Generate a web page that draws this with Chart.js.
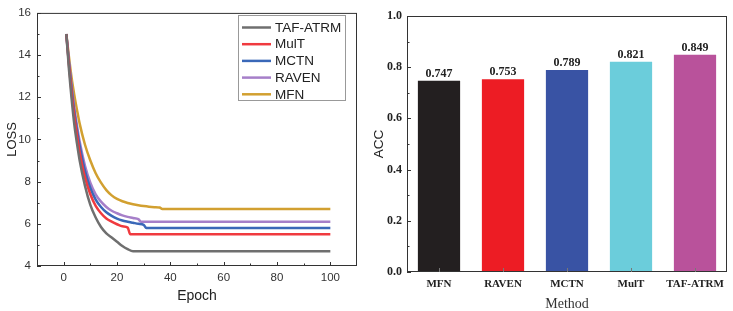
<!DOCTYPE html>
<html>
<head>
<meta charset="utf-8">
<script src="https://cdn.jsdelivr.net/npm/chart.js@4.4.1/dist/chart.umd.min.js"></script>
<style>
    body { margin: 0; background: #fff; width: 733px; height: 311px; position: relative; overflow: hidden; }
    .panel { position: absolute; top: 0; height: 311px; }
    #leftPanel { left: 0; width: 370px; }
    #rightPanel { left: 370px; width: 363px; }
</style>
</head>
<body>
<div class="panel" id="leftPanel"><canvas id="lossChart"></canvas></div>
<div class="panel" id="rightPanel"><canvas id="accChart"></canvas></div>
<script>
// Loss curves
const tafEpochs   = [1, 2, 3, 4, 5, 6, 8, 10, 12, 14, 16, 18, 20, 22, 24, 26, 100];
const tafLoss     = [15, 13.3, 11.9, 10.7, 9.8, 9.0, 7.8, 6.9, 6.3, 5.85, 5.55, 5.35, 5.15, 4.95, 4.8, 4.7, 4.7];
const multEpochs  = [1, 2, 3, 4, 5, 6, 8, 10, 12, 14, 16, 18, 20, 22, 24, 25, 100];
const multLoss    = [15, 13.5, 12.2, 11.1, 10.2, 9.4, 8.2, 7.4, 6.85, 6.5, 6.25, 6.1, 5.98, 5.88, 5.82, 5.5, 5.5];
const mctnEpochs  = [1, 2, 3, 4, 5, 6, 8, 10, 12, 14, 16, 18, 20, 22, 24, 26, 28, 30, 31, 100];
const mctnLoss    = [15, 13.6, 12.4, 11.3, 10.45, 9.7, 8.5, 7.7, 7.15, 6.8, 6.55, 6.38, 6.25, 6.16, 6.1, 6.05, 6.0, 5.95, 5.8, 5.8];
const ravenEpochs = [1, 2, 3, 4, 5, 6, 8, 10, 12, 14, 16, 18, 20, 22, 24, 26, 28, 29, 100];
const ravenLoss   = [15, 13.7, 12.5, 11.5, 10.65, 9.9, 8.75, 7.95, 7.4, 7.05, 6.8, 6.62, 6.5, 6.4, 6.33, 6.28, 6.22, 6.1, 6.1];
const mfnEpochs   = [1, 2, 3, 4, 5, 6, 8, 10, 12, 14, 16, 18, 20, 22, 24, 26, 28, 30, 32, 34, 36, 37, 100];
const mfnLoss     = [15, 13.9, 12.9, 12.1, 11.4, 10.75, 9.75, 9.0, 8.4, 7.95, 7.6, 7.35, 7.18, 7.07, 6.99, 6.93, 6.88, 6.84, 6.81, 6.79, 6.77, 6.7, 6.7];

const epochTicks = [0, 20, 40, 60, 80, 100];
const lossTicks  = [4, 6, 8, 10, 12, 14, 16];

// Accuracy bars
const methods = ['MFN', 'RAVEN', 'MCTN', 'MulT', 'TAF-ATRM'];
const accValues = [0.747, 0.753, 0.789, 0.821, 0.849];
const accTicks = [0.0, 0.2, 0.4, 0.6, 0.8, 1.0];

const toPoints = (xs, ys) => xs.map((x, i) => ({ x: x, y: ys[i] }));

// frame + inward ticks (major and minor)
const frameTicks = {
    id: 'frameTicks',
    afterDraw(chart, args, opts) {
        const ctx = chart.ctx;
        const a = chart.chartArea;
        ctx.save();
        ctx.strokeStyle = '#333';
        ctx.lineWidth = 1;
        ctx.strokeRect(a.left + 0.5, a.top + 0.5, a.right - a.left - 1, a.bottom - a.top - 1);
        const y = chart.scales.y;
        const yt = y.ticks.map(t => t.value);
        for (let i = 0; i < yt.length; i++) {
            const py = Math.round(y.getPixelForValue(yt[i])) + 0.5;
            ctx.beginPath(); ctx.moveTo(a.left, py); ctx.lineTo(a.left + 4, py); ctx.stroke();
            if (i < yt.length - 1) {
                const my = Math.round(y.getPixelForValue((yt[i] + yt[i + 1]) / 2)) + 0.5;
                ctx.beginPath(); ctx.moveTo(a.left, my); ctx.lineTo(a.left + 2.5, my); ctx.stroke();
            }
        }
        if (opts.xLinear) {
            const x = chart.scales.x;
            const xt = x.ticks.map(t => t.value);
            for (let i = 0; i < xt.length; i++) {
                const px = Math.round(x.getPixelForValue(xt[i])) + 0.5;
                ctx.beginPath(); ctx.moveTo(px, a.bottom); ctx.lineTo(px, a.bottom - 4); ctx.stroke();
                const m = xt[i] + 10;
                if (m < x.max) {
                    const mx = Math.round(x.getPixelForValue(m)) + 0.5;
                    ctx.beginPath(); ctx.moveTo(mx, a.bottom); ctx.lineTo(mx, a.bottom - 2.5); ctx.stroke();
                }
            }
            const mx0 = Math.round(x.getPixelForValue(xt[0] - 10)) + 0.5;
            ctx.beginPath(); ctx.moveTo(mx0, a.bottom); ctx.lineTo(mx0, a.bottom - 2.5); ctx.stroke();
        } else {
            // small ticks at bar centres on the category axis
            const x = chart.scales.x;
            ctx.strokeStyle = '#777';
            x.ticks.forEach((t, i) => {
                const px = Math.round(x.getPixelForTick(i)) + 0.5;
                ctx.beginPath(); ctx.moveTo(px, a.bottom); ctx.lineTo(px, a.bottom - 4); ctx.stroke();
            });
        }
        ctx.restore();
    }
};

// legend box inside the plot
const lossLegend = {
    id: 'lossLegend',
    afterDraw(chart) {
        const ctx = chart.ctx;
        ctx.save();
        ctx.strokeStyle = '#999';
        ctx.lineWidth = 1;
        ctx.strokeRect(238.5, 15.5, 107, 85);
        ctx.font = '13.5px "Liberation Sans", Arial, sans-serif';
        ctx.textBaseline = 'middle';
        ctx.fillStyle = '#222';
        chart.data.datasets.forEach((ds, i) => {
            const y = 27.5 + i * 16.7;
            ctx.strokeStyle = ds.borderColor;
            ctx.lineWidth = 2.5;
            ctx.beginPath(); ctx.moveTo(242, y); ctx.lineTo(271, y); ctx.stroke();
            ctx.fillText(ds.label, 275, y + 0.5);
        });
        ctx.restore();
    }
};

// value labels above bars
const barValues = {
    id: 'barValues',
    afterDatasetsDraw(chart) {
        const ctx = chart.ctx;
        const meta = chart.getDatasetMeta(0);
        ctx.save();
        ctx.font = 'bold 12px "Liberation Serif", "Times New Roman", serif';
        ctx.fillStyle = '#222';
        ctx.textAlign = 'center';
        ctx.textBaseline = 'bottom';
        meta.data.forEach((bar, i) => {
            ctx.fillText(accValues[i].toFixed(3), bar.x, bar.y - 1);
        });
        ctx.restore();
    }
};

const sansTick = { family: '"Liberation Sans", Arial, sans-serif', size: 11.5 };
const serifTick = { family: '"Liberation Serif", "Times New Roman", serif', size: 12, weight: 'bold' };

new Chart(document.getElementById('lossChart'), {
    type: 'line',
    data: {
        datasets: [
            { label: 'TAF-ATRM', data: toPoints(tafEpochs, tafLoss), borderColor: '#6f6f6f' },
            { label: 'MulT', data: toPoints(multEpochs, multLoss), borderColor: '#f03a3f' },
            { label: 'MCTN', data: toPoints(mctnEpochs, mctnLoss), borderColor: '#3a68b8' },
            { label: 'RAVEN', data: toPoints(ravenEpochs, ravenLoss), borderColor: '#a67fc9' },
            { label: 'MFN', data: toPoints(mfnEpochs, mfnLoss), borderColor: '#d2a030' }
        ].map(ds => Object.assign(ds, { borderWidth: 2.5, pointRadius: 0, cubicInterpolationMode: 'monotone', fill: false }))
    },
    options: {
        responsive: true,
        maintainAspectRatio: false,
        animation: false,
        layout: { padding: { top: 9, right: 13, left: 0, bottom: 0 } },
        plugins: { legend: { display: false }, tooltip: { enabled: false }, frameTicks: { xLinear: true } },
        scales: {
            x: {
                type: 'linear', min: -10, max: 110,
                afterBuildTicks: s => { s.ticks = epochTicks.map(v => ({ value: v })); },
                afterFit: s => { s.height = 45; },
                grid: { display: false, drawTicks: false },
                border: { display: false },
                ticks: { font: sansTick, color: '#333', padding: 5, maxRotation: 0 },
                title: { display: true, text: 'Epoch', font: { family: '"Liberation Sans", Arial, sans-serif', size: 14 }, color: '#222', padding: { top: 0, bottom: 6 } }
            },
            y: {
                min: 4, max: 16,
                afterBuildTicks: s => { s.ticks = lossTicks.map(v => ({ value: v })); },
                afterFit: s => { s.width = 37; },
                grid: { display: false, drawTicks: false },
                border: { display: false },
                ticks: { font: sansTick, color: '#333', padding: 6 },
                title: { display: true, text: 'LOSS', font: { family: '"Liberation Sans", Arial, sans-serif', size: 13 }, color: '#222', padding: { top: 5, bottom: 0 } }
            }
        }
    },
    plugins: [frameTicks, lossLegend]
});

new Chart(document.getElementById('accChart'), {
    type: 'bar',
    data: {
        labels: methods,
        datasets: [{
            label: 'ACC',
            data: accValues,
            backgroundColor: ['#231f20', '#ed1c24', '#3953a4', '#6bcddb', '#b9529b'],
            barPercentage: 0.66,
            categoryPercentage: 1.0
        }]
    },
    options: {
        responsive: true,
        maintainAspectRatio: false,
        animation: false,
        layout: { padding: { top: 16, right: 6, left: 0, bottom: 0 } },
        plugins: { legend: { display: false }, tooltip: { enabled: false }, frameTicks: { xLinear: false } },
        scales: {
            x: {
                afterFit: s => { s.height = 39; },
                grid: { display: false, drawTicks: false },
                border: { display: false },
                ticks: { font: { family: '"Liberation Serif", "Times New Roman", serif', size: 11, weight: 'bold' }, color: '#222', padding: 6, maxRotation: 0 },
                title: { display: true, text: 'Method', font: { family: '"Liberation Serif", "Times New Roman", serif', size: 14, lineHeight: 1.0 }, color: '#333', padding: { top: 0, bottom: 0 } }
            },
            y: {
                min: 0, max: 1,
                afterBuildTicks: s => { s.ticks = accTicks.map(v => ({ value: v })); },
                afterFit: s => { s.width = 37; },
                grid: { display: false, drawTicks: false },
                border: { display: false },
                ticks: { font: serifTick, color: '#222', padding: 5, callback: v => v.toFixed(1) },
                title: { display: true, text: 'ACC', font: { family: '"Liberation Sans", Arial, sans-serif', size: 13.5 }, color: '#222', padding: { top: 1, bottom: 0 } }
            }
        }
    },
    plugins: [frameTicks, barValues]
});
</script>
</body>
</html>
